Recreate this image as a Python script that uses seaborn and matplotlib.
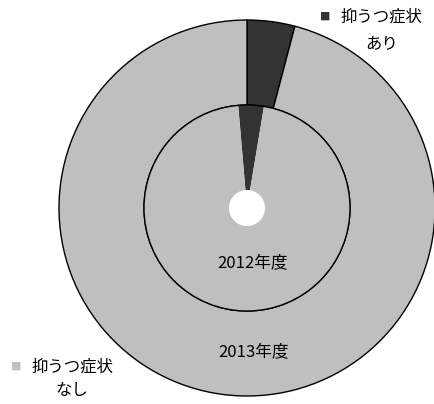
import matplotlib.pyplot as plt
import seaborn as sns
from matplotlib.patches import Circle

sns.set_theme(style='white')
plt.rcParams['font.family'] = ['Noto Sans CJK JP', 'DejaVu Sans']

# data (share in %)
categories = ['抑うつ症状あり', '抑うつ症状なし']
share_2013 = [4.1, 95.9]   # outer ring
share_2012 = [4.0, 96.0]   # inner ring
years = ['2012年度', '2013年度']
colors = ['#333333', '#bfbfbf']

fig = plt.figure(figsize=(4.35, 4.04), dpi=100)
ax = fig.add_axes([59 / 435, 8 / 404, 376 / 435, 376 / 404])
ax.set_aspect('equal')

r_in = 0.548
hole = 0.096

# outer ring = 2013
ax.pie(share_2013, radius=1, colors=colors, startangle=90, counterclock=False,
       wedgeprops=dict(width=1 - r_in, edgecolor='black', linewidth=1))
# inner disc = 2012 (slightly rotated in the original)
ax.pie(share_2012, radius=r_in, colors=colors, startangle=94.9, counterclock=False,
       wedgeprops=dict(edgecolor='none', linewidth=0))
ax.add_patch(Circle((0, 0), r_in, fill=False, edgecolor='black', linewidth=1))
ax.add_patch(Circle((0, 0), hole, facecolor='white', edgecolor='none'))
ax.set_xlim(-1, 1)
ax.set_ylim(-1, 1)
ax.axis('off')

# ring labels
fig.text(253 / 435, 1 - 263 / 404, years[0], ha='center', va='center', fontsize=12, color='black')
fig.text(254 / 435, 1 - 352 / 404, years[1], ha='center', va='center', fontsize=12, color='black')

# legend-like labels
fig.text(325 / 435, 1 - 17 / 404, '■', ha='center', va='center', fontsize=7.5, color=colors[0])
fig.text(381 / 435, 1 - 17 / 404, categories[0][:5], ha='center', va='center', fontsize=11.8, color='black')
fig.text(382 / 435, 1 - 44 / 404, categories[0][5:], ha='center', va='center', fontsize=11.8, color='black')

fig.text(16 / 435, 1 - 367 / 404, '■', ha='center', va='center', fontsize=7.5, color=colors[1])
fig.text(72 / 435, 1 - 367 / 404, categories[1][:5], ha='center', va='center', fontsize=11.8, color='black')
fig.text(72 / 435, 1 - 391 / 404, categories[1][5:], ha='center', va='center', fontsize=11.8, color='black')

fig.savefig('out.png', dpi=100, facecolor='white')
plt.close()
